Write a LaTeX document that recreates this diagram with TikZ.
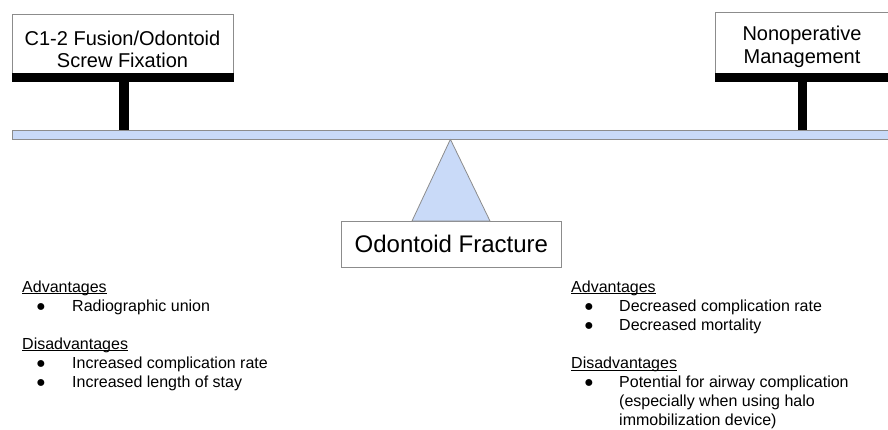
\documentclass[tikz,border=0pt]{standalone}
\usepackage{fontspec}
\setmainfont{Liberation Sans}
\definecolor{beamblue}{HTML}{C9DAF8}
\definecolor{edgegray}{HTML}{8C8C8C}
\begin{document}
\begin{tikzpicture}[x=1pt,y=-1pt,
  box/.style={draw=edgegray, line width=0.8pt, fill=white, inner sep=0pt},
  barfill/.style={fill=black},
  stem/.style={line width=9.8pt},
  lbl/.style={font=\fontsize{20}{23}\selectfont, anchor=base, inner sep=0pt},
  item/.style={font=\fontsize{16}{19}\selectfont, anchor=base west, inner sep=0pt},
  dot/.style={font=\fontsize{16}{19}\selectfont, anchor=base, inner sep=0pt},
  uline/.style={line width=0.9pt},
]
\useasboundingbox (0,0) rectangle (888,429);
\clip (0,0) rectangle (888,429);

% boxes at top
\node[box, minimum width=221pt, minimum height=67pt, anchor=north west] (lbox) at (12,14) {};
\node[box, minimum width=174pt, minimum height=69pt, anchor=north west] (rbox) at (715,12) {};
\node[draw=edgegray, fill=beamblue, line width=0.8pt, minimum width=900pt, minimum height=9pt,
      anchor=north west, inner sep=0pt] (beam) at (12,129.5) {};

% stems
\draw[stem] ([xshift=1.2pt]lbox.south) -- ([xshift=1.2pt]lbox.south |- beam.north);
\draw[stem] (rbox.south) -- (rbox.south |- beam.north);

% black bars at bottom of boxes
\fill[barfill] ([xshift=-0.4pt,yshift=9pt]lbox.south west) rectangle ([xshift=0.4pt,yshift=-0.4pt]lbox.south east);
\fill[barfill] ([xshift=-0.4pt,yshift=9pt]rbox.south west) rectangle ([xshift=0.4pt,yshift=-0.4pt]rbox.south east);

% box labels
\node[lbl] (lt1) at (122.5,45) {C1-2 Fusion/Odontoid};
\node[lbl] (lt2) at (122.5,67) {Screw Fixation};
\node[lbl] (rt1) at (802,40) {Nonoperative};
\node[lbl] (rt2) at (802,63) {Management};

% fulcrum and fracture box
\node[box, minimum width=220pt, minimum height=46pt, anchor=north west,
      font=\fontsize{24}{28}\selectfont] (fx) at (341,221) {Odontoid Fracture};
\coordinate (tl) at (412,221);
\coordinate (tr) at (490,221);
\draw[draw=edgegray, fill=beamblue, line width=0.8pt, line join=round]
  ([xshift=-1pt]fx.north |- beam.south) -- (tl) -- (tr) -- cycle;

% left list
\node[item] (la) at (22,292) {Advantages};
\draw[uline] ([yshift=-1.6pt]la.base west) -- ([yshift=-1.6pt]la.base east);
\node[dot] (lb1) at (41,311.1) {●};
\node[item] (li1) at (72,311.1) {Radiographic union};
\node[item] (ld) at (22,349.3) {Disadvantages};
\draw[uline] ([yshift=-1.6pt]ld.base west) -- ([yshift=-1.6pt]ld.base east);
\node[dot] (lb2) at (41,368.4) {●};
\node[item] (li2) at (72,368.4) {Increased complication rate};
\node[dot] (lb3) at (41,387.5) {●};
\node[item] (li3) at (72,387.5) {Increased length of stay};

% right list
\node[item] (ra) at (571,292) {Advantages};
\draw[uline] ([yshift=-1.6pt]ra.base west) -- ([yshift=-1.6pt]ra.base east);
\node[dot] (rb1) at (589,311.1) {●};
\node[item] (ri1) at (619,311.1) {Decreased complication rate};
\node[dot] (rb2) at (589,330.2) {●};
\node[item] (ri2) at (619,330.2) {Decreased mortality};
\node[item] (rd) at (571,368.4) {Disadvantages};
\draw[uline] ([yshift=-1.6pt]rd.base west) -- ([yshift=-1.6pt]rd.base east);
\node[dot] (rb3) at (589,387.5) {●};
\node[item] (ri3) at (619,387.5) {Potential for airway complication};
\node[item] (ri4) at (619,406.6) {(especially when using halo};
\node[item] (ri5) at (619,425.7) {immobilization device)};
\end{tikzpicture}
\end{document}
